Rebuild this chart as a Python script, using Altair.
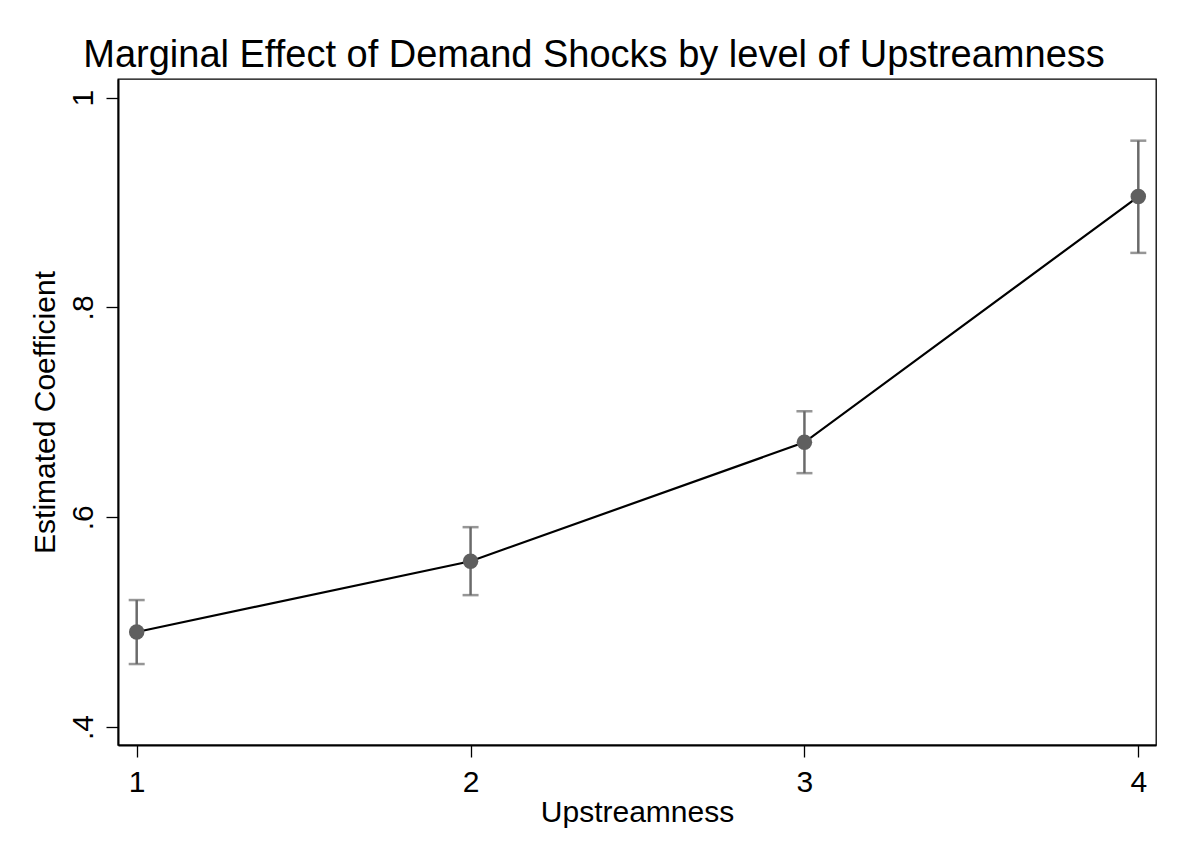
import altair as alt
import pandas as pd

upstreamness = [1, 2, 3, 4]
coef = [0.4905, 0.558, 0.6714, 0.9057]
ci_low = [0.460, 0.5257, 0.642, 0.852]
ci_high = [0.521, 0.5905, 0.701, 0.959]

df = pd.DataFrame({"x": upstreamness, "b": coef, "lo": ci_low, "hi": ci_high})

FONT = "Arial, Liberation Sans, sans-serif"
YTITLE = "Estimated Coefficient"

xscale = alt.Scale(domain=[0.944, 4.053], nice=False, zero=False)
yscale = alt.Scale(domain=[0.3828, 1.0178], nice=False, zero=False)

xenc = alt.X("x:Q", scale=xscale, title="Upstreamness",
             axis=alt.Axis(values=[1, 2, 3, 4], format="d",
                           grid=False, tickSize=12, labelFontSize=30, titleFontSize=30,
                           labelPadding=10, titlePadding=0, domainWidth=2,
                           tickWidth=1.3, labelFont=FONT, titleFont=FONT,
                           labelColor="black", titleColor="black", titleFontWeight="normal",
                           domainColor="black", tickColor="black"))
yenc = alt.Y("b:Q", scale=yscale, title=YTITLE,
             axis=alt.Axis(values=[0.4, 0.6, 0.8, 1.0],
                           labelExpr="datum.value == 1 ? '1' : replace(format(datum.value, '.1f'), '0.', '.')",
                           grid=False, tickSize=12,
                           labelFontSize=30, titleFontSize=30, labelAngle=270,
                           labelAlign="center", labelBaseline="bottom",
                           labelPadding=8, titlePadding=8, domainWidth=2, tickWidth=1.3,
                           labelFont=FONT, titleFont=FONT, labelColor="black",
                           titleColor="black", titleFontWeight="normal",
                           domainColor="black", tickColor="black"))

line = alt.Chart(df).mark_line(color="black", strokeWidth=2.2).encode(x=xenc, y=yenc)

bars = alt.Chart(df).mark_errorbar(
    color="#6a6a6a", thickness=2.5,
    ticks=alt.TickConfig(size=16, thickness=2.5, color="#6a6a6a")
).encode(x=alt.X("x:Q", scale=xscale, title="Upstreamness"),
         y=alt.Y("lo:Q", scale=yscale, title=YTITLE), y2="hi:Q")

pts = alt.Chart(df).mark_circle(size=240, color="#5f5f5f", opacity=1).encode(x=xenc, y=yenc)

chart = alt.layer(line, bars, pts).properties(
    width=1038, height=666,
    title=alt.TitleParams("Marginal Effect of Demand Shocks by level of Upstreamness",
                          fontSize=38, font=FONT, fontWeight="normal", color="black",
                          anchor="middle", dx=-43, offset=4),
    autosize=alt.AutoSizeParams(type="none"),
    padding={"left": 110, "top": 71, "right": 24, "bottom": 100},
    background="white",
).configure_view(stroke="black", strokeWidth=1.3)

chart.save("out.html", embed_options={"renderer": "svg", "actions": False})
